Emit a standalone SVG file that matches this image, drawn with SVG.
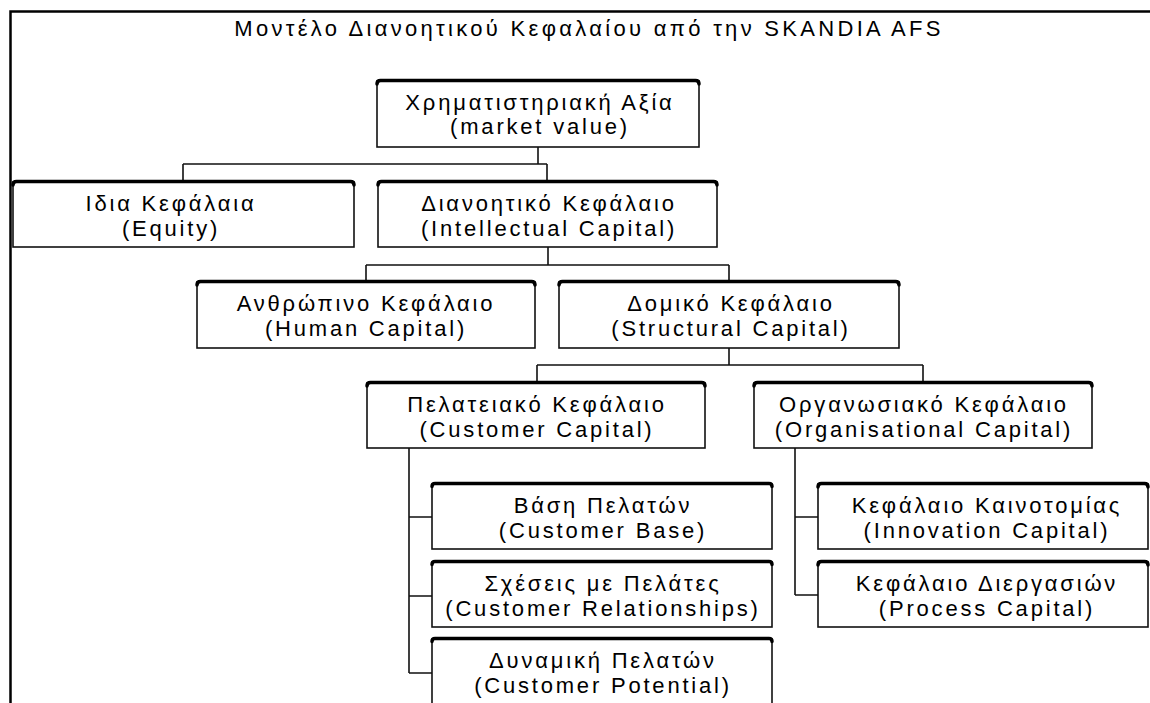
<svg xmlns="http://www.w3.org/2000/svg" width="1150" height="703" viewBox="0 0 1150 703">
  <style>
    .frame { fill: none; stroke: #000; stroke-width: 2.5; }
    .box { fill: #fff; stroke: #111; stroke-width: 1.6; }
    .cap { fill: none; stroke: #000; stroke-width: 3.5; stroke-linecap: round; stroke-linejoin: round; }
    .wire { fill: none; stroke: #111; stroke-width: 1.6; }
    text { font-family: "Liberation Sans", Arial, sans-serif; font-size: 22px; letter-spacing: 2.8px; fill: #000; text-anchor: middle; }
    .title { letter-spacing: 3.3px; }
  </style>
  <defs>
    <!-- raised top edge shared by every box -->
    <path id="cap340" class="cap" d="M0,3 Q0,0 3,0 H337 Q340,0 340,3"/>
  </defs>

  <rect width="1150" height="703" fill="#fff"/>
  <!-- page frame: top and left rules only -->
  <path class="frame" d="M10.5,703 V11.5 H1150"/>

  <text class="title" x="589" y="36">Μοντέλο Διανοητικού Κεφαλαίου από την SKANDIA AFS</text>

  <g id="connectors">
    <path class="wire" d="M538,147 V164 M183,164 H547 M183,164 V182 M547,164 V182"/>
    <path class="wire" d="M548,247 V265 M366,265 H729 M366,265 V282 M729,265 V282"/>
    <path class="wire" d="M729,348 V365 M537,365 H923 M537,365 V383 M923,365 V383"/>
    <path class="wire" d="M409,448 V673 M409,517 H432 M409,596 H432 M409,673 H432"/>
    <path class="wire" d="M795,448 V595 M795,517 H818 M795,595 H818"/>
  </g>

  <g id="market-value">
    <rect class="box" x="377" y="81" width="322" height="66"/>
    <path class="cap" d="M377,84 Q377,80.5 380.5,80.5 H695.5 Q699,80.5 699,84"/>
    <text x="540" y="110">Χρηματιστηριακή Αξία</text>
    <text x="540" y="134">(market value)</text>
  </g>

  <g id="equity">
    <rect class="box" x="13" y="182" width="341" height="65"/>
    <path class="cap" d="M13,185 Q13,181.5 16.5,181.5 H350.5 Q354,181.5 354,185"/>
    <text x="171" y="211">Ιδια Κεφάλαια</text>
    <text x="171" y="236">(Equity)</text>
  </g>

  <g id="intellectual-capital">
    <rect class="box" x="378" y="182" width="339" height="65"/>
    <path class="cap" d="M378,185 Q378,181.5 381.5,181.5 H713.5 Q717,181.5 717,185"/>
    <text x="549" y="211">Διανοητικό Κεφάλαιο</text>
    <text x="549" y="236">(Intellectual Capital)</text>
  </g>

  <g id="human-capital">
    <rect class="box" x="197" y="282" width="338" height="66"/>
    <path class="cap" d="M197,285 Q197,281.5 200.5,281.5 H531.5 Q535,281.5 535,285"/>
    <text x="366" y="311">Ανθρώπινο Κεφάλαιο</text>
    <text x="366" y="336">(Human Capital)</text>
  </g>

  <g id="structural-capital">
    <rect class="box" x="559" y="282" width="340" height="66"/>
    <path class="cap" d="M559,285 Q559,281.5 562.5,281.5 H895.5 Q899,281.5 899,285"/>
    <text x="731" y="311">Δομικό Κεφάλαιο</text>
    <text x="731" y="336">(Structural Capital)</text>
  </g>

  <g id="customer-capital">
    <rect class="box" x="367" y="383" width="338" height="65"/>
    <path class="cap" d="M367,386 Q367,382.5 370.5,382.5 H701.5 Q705,382.5 705,386"/>
    <text x="537" y="412">Πελατειακό Κεφάλαιο</text>
    <text x="537" y="437">(Customer Capital)</text>
  </g>

  <g id="organisational-capital">
    <rect class="box" x="754" y="383" width="338" height="65"/>
    <path class="cap" d="M754,386 Q754,382.5 757.5,382.5 H1088.5 Q1092,382.5 1092,386"/>
    <text x="924" y="412">Οργανωσιακό Κεφάλαιο</text>
    <text x="924" y="437">(Organisational Capital)</text>
  </g>

  <g id="customer-base">
    <rect class="box" x="432" y="484" width="340" height="65"/>
    <use href="#cap340" x="432" y="483.5"/>
    <text x="603" y="513">Βάση Πελατών</text>
    <text x="603" y="538">(Customer Base)</text>
  </g>

  <g id="customer-relationships">
    <rect class="box" x="432" y="562" width="340" height="65"/>
    <use href="#cap340" x="432" y="561.5"/>
    <text x="603" y="591">Σχέσεις με Πελάτες</text>
    <text x="603" y="616">(Customer Relationships)</text>
  </g>

  <g id="customer-potential">
    <rect class="box" x="432" y="639" width="340" height="75"/>
    <use href="#cap340" x="432" y="638.5"/>
    <text x="603" y="668">Δυναμική Πελατών</text>
    <text x="603" y="693">(Customer Potential)</text>
  </g>

  <g id="innovation-capital">
    <rect class="box" x="818" y="484" width="330" height="65"/>
    <path class="cap" d="M818,487 Q818,483.5 821.5,483.5 H1144.5 Q1148,483.5 1148,487"/>
    <text x="987" y="513">Κεφάλαιο Καινοτομίας</text>
    <text x="987" y="538">(Innovation Capital)</text>
  </g>

  <g id="process-capital">
    <rect class="box" x="818" y="562" width="330" height="65"/>
    <path class="cap" d="M818,565 Q818,561.5 821.5,561.5 H1144.5 Q1148,561.5 1148,565"/>
    <text x="987" y="591">Κεφάλαιο Διεργασιών</text>
    <text x="987" y="616">(Process Capital)</text>
  </g>
</svg>
